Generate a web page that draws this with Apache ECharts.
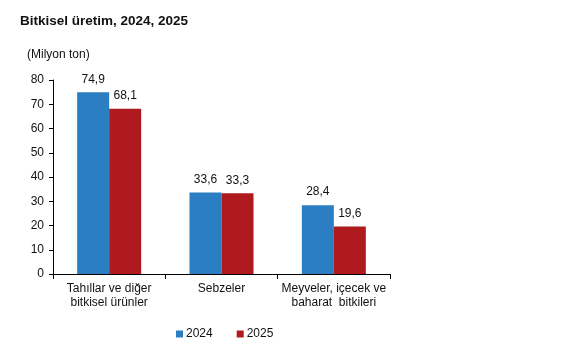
<!DOCTYPE html>
<html>
<head>
<meta charset="utf-8">
<script src="https://cdn.jsdelivr.net/npm/echarts@6/dist/echarts.min.js"></script>
<style>
html,body{margin:0;padding:0;background:#fff;}
#chart{width:567px;height:348px;}
</style>
</head>
<body>
<div id="chart"></div>
<script>
const categories = ['Tahıllar ve diğer\nbitkisel ürünler', 'Sebzeler', 'Meyveler, içecek ve\nbaharat  bitkileri'];
const values2024 = [74.9, 33.6, 28.4];
const values2025 = [68.1, 33.3, 19.6];
const yTicks = [0, 10, 20, 30, 40, 50, 60, 70, 80];

const font = 'Liberation Sans, Arial, sans-serif';
const fmt = p => String(p.value.toFixed(1)).replace('.', ',');

const chart = echarts.init(document.getElementById('chart'));
chart.setOption({
  animation: false,
  textStyle: { fontFamily: font },
  title: [
    { text: 'Bitkisel üretim, 2024, 2025', left: 15, top: 9,
      textStyle: { fontSize: 13.5, fontWeight: 'bold', color: '#111', fontFamily: font } },
    { text: '(Milyon ton)', left: 22, top: 44,
      textStyle: { fontSize: 12, fontWeight: 'normal', color: '#111', fontFamily: font } }
  ],
  legend: {
    top: 323, left: 171, itemWidth: 7, itemHeight: 7, itemGap: 24,
    icon: 'rect',
    textStyle: { fontSize: 12, color: '#111', padding: [0, 0, 0, -2] },
    data: ['2024', '2025']
  },
  grid: { left: 53, right: 177, top: 80, bottom: 74 },
  xAxis: {
    type: 'category', data: categories,
    axisLine: { lineStyle: { color: '#000' } },
    axisTick: { show: true, length: 5, lineStyle: { color: '#000' } },
    axisLabel: { color: '#111', fontSize: 12, lineHeight: 14, margin: 8, interval: 0 }
  },
  yAxis: {
    type: 'value', min: yTicks[0], max: yTicks[yTicks.length - 1], interval: 10,
    axisLine: { show: true, lineStyle: { color: '#000' } },
    axisTick: { show: true, length: 4, lineStyle: { color: '#000' } },
    splitLine: { show: false },
    axisLabel: { color: '#111', fontSize: 12, margin: 9 }
  },
  series: [
    { name: '2024', type: 'bar', data: values2024, barWidth: 32, barGap: '0%',
      itemStyle: { color: '#2B7EC1' },
      label: { show: true, position: 'top', distance: 7, formatter: fmt, fontSize: 12, color: '#111' } },
    { name: '2025', type: 'bar', data: values2025, barWidth: 32,
      itemStyle: { color: '#AE1A1D' },
      label: { show: true, position: 'top', distance: 7, formatter: fmt, fontSize: 12, color: '#111' } }
  ]
});
</script>
</body>
</html>
